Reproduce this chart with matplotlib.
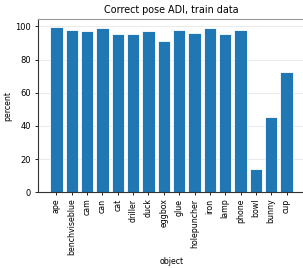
import matplotlib
matplotlib.use('Agg')
import matplotlib.pyplot as plt

objects = ['ape', 'benchviseblue', 'cam', 'can', 'cat', 'driller', 'duck', 'eggbox',
           'glue', 'holepuncher', 'iron', 'lamp', 'phone', 'bowl', 'bunny', 'cup']
percent = [99.5, 97.5, 97.0, 99.0, 95.5, 95.5, 97.0, 91.0,
           98.0, 96.0, 99.0, 95.5, 97.5, 14.0, 45.5, 72.5]

fig = plt.figure(figsize=(3.03, 2.68), dpi=100)
ax = fig.add_axes([38 / 303, 1 - 192.3 / 268, (305 - 38) / 303, (192.3 - 19) / 268])

x = range(len(objects))
ax.bar(x, percent, width=0.8, color='#1f77b4', edgecolor='white', linewidth=0.6, zorder=2)
ax.set_xticks(list(x))
ax.set_xticklabels(objects, rotation=90, fontsize=5.7)
ax.set_xlim(-1.2, 16.2)
ax.set_ylim(0, 104.4)
ax.set_yticks([0, 20, 40, 60, 80, 100])
ax.tick_params(axis='y', labelsize=6, length=2.5, width=0.6, pad=2.5)
ax.tick_params(axis='x', length=2.5, width=0.6, pad=2)
ax.grid(axis='y', color='#e6e6e6', linewidth=0.6, zorder=0)
ax.set_axisbelow(True)

for s in ['left', 'bottom']:
    ax.spines[s].set_color('#333333')
    ax.spines[s].set_linewidth(0.8)
ax.spines['top'].set_color('#999999')
ax.spines['top'].set_linewidth(0.8)
ax.spines['right'].set_visible(False)

ax.set_title('Correct pose ADI, train data', fontsize=6.9, pad=4)
ax.set_xlabel('object', fontsize=5.7, labelpad=1.5)
ax.set_ylabel('percent', fontsize=5.7, labelpad=2)

fig.savefig('out.png', dpi=100)
